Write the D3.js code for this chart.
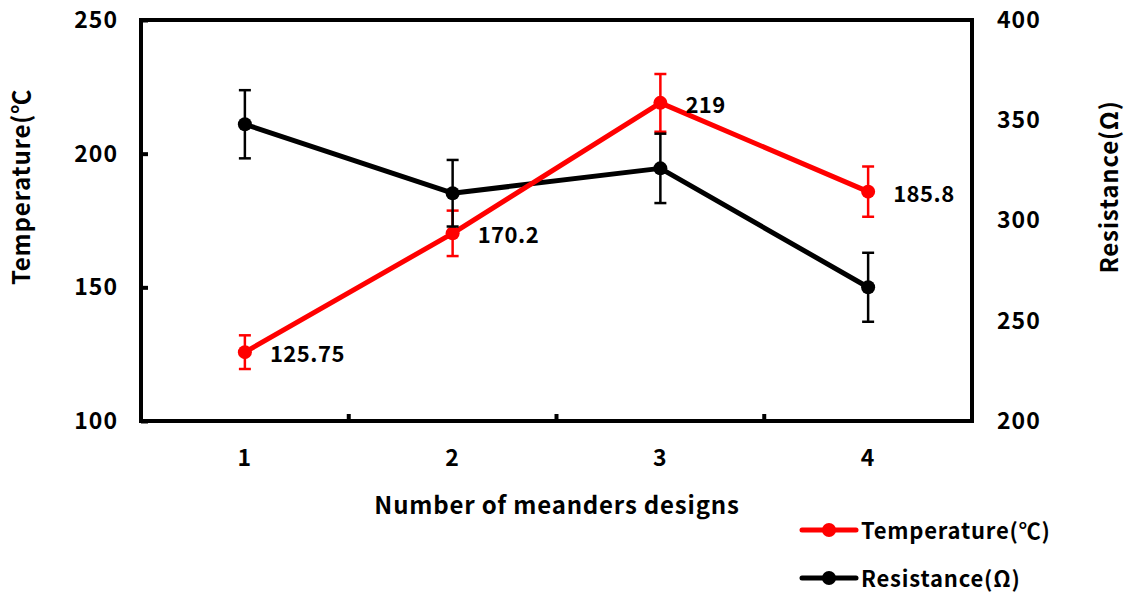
<!DOCTYPE html>
<html>
<head>
<meta charset="utf-8">
<script src="https://cdn.jsdelivr.net/npm/d3@7"></script>
<style>
  html, body { margin: 0; padding: 0; background: #fff; }
  svg { display: block; }
  text { font-family: "Noto Sans CJK KR", "Noto Sans", sans-serif; font-weight: bold; fill: #000; }
  .title { font-size: 24px; letter-spacing: 0.8px; }
  .tick text { font-size: 23px; letter-spacing: 1px; }
  .value { font-size: 22px; letter-spacing: 0.5px; }
  .legend text { font-size: 22px; letter-spacing: 0.8px; }
</style>
</head>
<body>
<svg id="chart" width="1130" height="600"></svg>
<script>
// Meander designs and measured values
const designs = ["1", "2", "3", "4"];
const temperature = [125.75, 170.2, 219, 185.8];
const temperatureErr = [6.3, 8.5, 10.8, 9.4];
const resistance = [348, 313.6, 326, 266.7];
const resistanceErr = [17, 16.6, 17.3, 17.2];
const leftTicks = [100, 150, 200, 250];
const rightTicks = [200, 250, 300, 350, 400];

const svg = d3.select("#chart");
const plot = { left: 141, right: 972, top: 20, bottom: 421 };

const x = d3.scaleBand().domain(designs).range([plot.left, plot.right]);
const yT = d3.scaleLinear().domain([100, 250]).range([plot.bottom, plot.top]);
const yR = d3.scaleLinear().domain([200, 400]).range([plot.bottom, plot.top]);
const cx = d => x(d) + x.bandwidth() / 2;

// Frame
svg.append("rect")
  .attr("x", plot.left).attr("y", plot.top)
  .attr("width", plot.right - plot.left).attr("height", plot.bottom - plot.top)
  .attr("fill", "none").attr("stroke", "#000").attr("stroke-width", 4);

// Left axis: inward ticks, labels on the left
const leftAxis = svg.append("g").attr("transform", `translate(${plot.left},0)`)
  .call(d3.axisLeft(yT).tickValues(leftTicks).tickSize(-7).tickPadding(23));
leftAxis.select(".domain").remove();
leftAxis.selectAll(".tick line").attr("stroke", "#000").attr("stroke-width", 4);
leftAxis.selectAll(".tick text").attr("fill", "#000");

// Right axis: labels only
const rightAxis = svg.append("g").attr("transform", `translate(${plot.right},0)`)
  .call(d3.axisRight(yR).tickValues(rightTicks).tickSize(0).tickPadding(25));
rightAxis.select(".domain").remove();
rightAxis.selectAll(".tick text").attr("fill", "#000");

// Bottom axis: inward ticks between categories, labels centered
const bottomAxis = svg.append("g").attr("transform", `translate(0,${plot.bottom})`)
  .call(d3.axisBottom(x).tickSize(0).tickPadding(29));
bottomAxis.select(".domain").remove();
bottomAxis.selectAll(".tick text").attr("fill", "#000");
svg.append("g").selectAll("line")
  .data(designs.slice(1))
  .join("line")
  .attr("x1", d => x(d)).attr("x2", d => x(d))
  .attr("y1", plot.bottom).attr("y2", plot.bottom - 7)
  .attr("stroke", "#000").attr("stroke-width", 4);

// Axis titles
svg.append("text").attr("class", "title")
  .attr("transform", "translate(30,187) rotate(-90)")
  .attr("text-anchor", "middle")
  .text("Temperature(℃");
svg.append("text").attr("class", "title")
  .attr("transform", "translate(1118,187) rotate(-90)")
  .attr("text-anchor", "middle")
  .text("Resistance(Ω)");
svg.append("text").attr("class", "title")
  .attr("x", 557).attr("y", 514)
  .attr("text-anchor", "middle")
  .text("Number of meanders designs");

// Series lines
const rPts = designs.map((d, i) => [cx(d), yR(resistance[i])]);
const tPts = designs.map((d, i) => [cx(d), yT(temperature[i])]);
const line = d3.line();

svg.append("path").attr("d", line(rPts))
  .attr("fill", "none").attr("stroke", "#000").attr("stroke-width", 5).attr("stroke-linejoin", "round");
svg.append("path").attr("d", line(tPts))
  .attr("fill", "none").attr("stroke", "#ff0000").attr("stroke-width", 5).attr("stroke-linejoin", "round");

// Markers
svg.append("g").selectAll("circle").data(designs).join("circle")
  .attr("cx", d => cx(d)).attr("cy", (d, i) => yR(resistance[i])).attr("r", 7).attr("fill", "#000");
svg.append("g").selectAll("circle").data(designs).join("circle")
  .attr("cx", d => cx(d)).attr("cy", (d, i) => yT(temperature[i])).attr("r", 7).attr("fill", "#ff0000");

// Error bars
function errorBars(values, errs, scale, color) {
  const g = svg.append("g").attr("stroke", color).attr("stroke-width", 2.5);
  designs.forEach((d, i) => {
    const px = cx(d);
    const hi = scale(values[i] + errs[i]);
    const lo = scale(values[i] - errs[i]);
    g.append("line").attr("x1", px).attr("x2", px).attr("y1", hi).attr("y2", lo);
    g.append("line").attr("x1", px - 6).attr("x2", px + 6).attr("y1", hi).attr("y2", hi);
    g.append("line").attr("x1", px - 6).attr("x2", px + 6).attr("y1", lo).attr("y2", lo);
  });
}
errorBars(temperature, temperatureErr, yT, "#ff0000");
errorBars(resistance, resistanceErr, yR, "#000");

// Value labels for temperature
svg.append("g").selectAll("text").data(designs).join("text")
  .attr("class", "value")
  .attr("x", d => cx(d) + 25)
  .attr("y", (d, i) => yT(temperature[i]) + 10)
  .text((d, i) => String(temperature[i]));

// Legend
const legend = [
  { label: "Temperature(℃)", color: "#ff0000", y: 530 },
  { label: "Resistance(Ω)", color: "#000", y: 578 }
];
const lg = svg.append("g").attr("class", "legend");
legend.forEach(l => {
  lg.append("line").attr("x1", 802).attr("x2", 856).attr("y1", l.y).attr("y2", l.y)
    .attr("stroke", l.color).attr("stroke-width", 5).attr("stroke-linecap", "round");
  lg.append("circle").attr("cx", 829).attr("cy", l.y).attr("r", 7).attr("fill", l.color);
  lg.append("text").attr("x", 861).attr("y", l.y + 9).text(l.label);
});
</script>
</body>
</html>
